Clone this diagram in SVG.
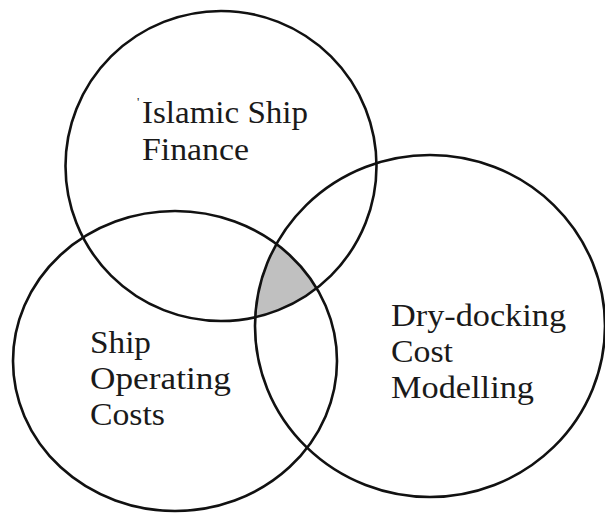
<svg xmlns="http://www.w3.org/2000/svg" width="605" height="514" viewBox="0 0 605 514">
<style>
.c{fill:none;stroke:#111;stroke-width:2.6}
.t{font-family:"Liberation Serif","Times New Roman",serif;font-size:32px;fill:#1a1a1a}
</style>
<defs>
<clipPath id="clipTop"><ellipse cx="221" cy="166" rx="155.5" ry="155"/></clipPath>
<clipPath id="clipLeft"><ellipse cx="175" cy="361" rx="162" ry="150"/></clipPath>
</defs>
<rect width="605" height="514" fill="#fff"/>
<g id="overlap">
<g clip-path="url(#clipTop)"><g clip-path="url(#clipLeft)"><ellipse cx="430" cy="326" rx="175" ry="171" fill="#c0c0c0"/></g></g>
</g>
<g id="islamic-ship-finance">
<ellipse class="c" cx="221" cy="166" rx="155.5" ry="155"/>
<text class="t" x="137" y="106" style="font-size:13px">'</text>
<text class="t" x="142" y="123" textLength="166" lengthAdjust="spacingAndGlyphs">Islamic Ship</text>
<text class="t" x="142" y="160" textLength="107" lengthAdjust="spacingAndGlyphs">Finance</text>
</g>
<g id="ship-operating-costs">
<ellipse class="c" cx="175" cy="361" rx="162" ry="150"/>
<text class="t" x="90" y="353" textLength="61" lengthAdjust="spacingAndGlyphs">Ship</text>
<text class="t" x="90" y="389" textLength="141" lengthAdjust="spacingAndGlyphs">Operating</text>
<text class="t" x="90" y="425" textLength="75" lengthAdjust="spacingAndGlyphs">Costs</text>
</g>
<g id="dry-docking-cost-modelling">
<ellipse class="c" cx="430" cy="326" rx="175" ry="171"/>
<text class="t" x="391" y="326" textLength="175" lengthAdjust="spacingAndGlyphs">Dry-docking</text>
<text class="t" x="391" y="362" textLength="62" lengthAdjust="spacingAndGlyphs">Cost</text>
<text class="t" x="391" y="398" textLength="143" lengthAdjust="spacingAndGlyphs">Modelling</text>
</g>
<g id="connectors"/>
</svg>
